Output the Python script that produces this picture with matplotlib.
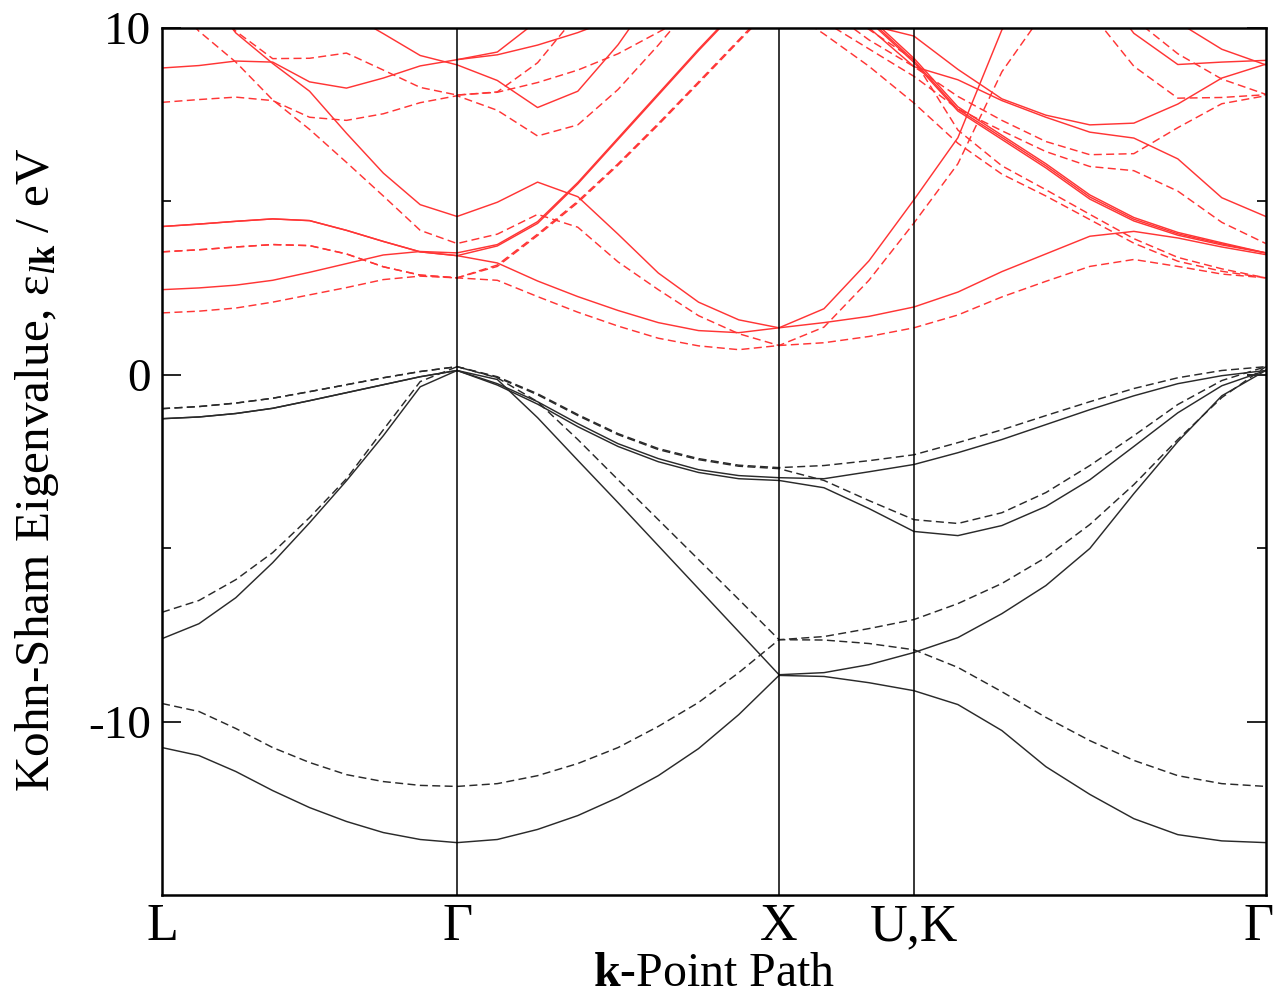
import numpy as np
import matplotlib
matplotlib.use("Agg")
import matplotlib.pyplot as plt
from matplotlib.transforms import ScaledTranslation

plt.rcParams['font.family'] = ['Liberation Serif', 'DejaVu Serif']
plt.rcParams['mathtext.fontset'] = 'custom'
plt.rcParams['mathtext.rm'] = 'Liberation Serif'
plt.rcParams['mathtext.it'] = 'Liberation Serif:italic'
plt.rcParams['mathtext.bf'] = 'Liberation Serif:bold'
plt.rcParams['axes.unicode_minus'] = False

nan = np.nan

# ---- k-path ----
kpt_labels = ['L', 'Γ', 'X', 'U,K', 'Γ']
kpt_pos = [0.0, 0.877, 1.834, 2.235, 3.281]
seg_steps = [8, 8, 3, 8]

# ---- valence bands (solid) ----
vs1 = [-10.75, -10.98, -11.44, -11.99, -12.48, -12.88, -13.20, -13.40, -13.49,
       -13.40, -13.11, -12.71, -12.19, -11.56, -10.78, -9.80, -8.67,
       -8.70, -8.88, -9.11,
       -9.51, -10.26, -11.30, -12.10, -12.80, -13.26, -13.44, -13.49]
vs2 = [-7.61, -7.18, -6.43, -5.42, -4.27, -3.06, -1.76, -0.35, 0.12,
       -0.14, -1.24, -2.47, -3.69, -4.93, -6.17, -7.41, -8.65,
       -8.59, -8.36, -8.01,
       -7.58, -6.89, -6.08, -5.01, -3.43, -1.93, -0.61, 0.12]
vs3 = [-1.27, -1.22, -1.12, -0.97, -0.75, -0.52, -0.29, -0.06, 0.12,
       -0.30, -0.85, -1.50, -2.07, -2.51, -2.82, -3.00, -3.05,
       -3.26, -3.86, -4.52,
       -4.64, -4.35, -3.80, -3.03, -2.07, -1.10, -0.32, 0.12]
vs4 = [-1.27, -1.22, -1.12, -0.97, -0.75, -0.52, -0.29, -0.06, 0.12,
       -0.26, -0.78, -1.41, -1.99, -2.42, -2.74, -2.91, -2.97,
       -3.00, -2.80, -2.59,
       -2.25, -1.87, -1.44, -1.01, -0.61, -0.26, -0.03, 0.12]

# ---- valence bands (dashed) ----
vd1 = [-9.48, -9.71, -10.20, -10.75, -11.18, -11.53, -11.73, -11.84, -11.87,
       -11.79, -11.56, -11.21, -10.75, -10.14, -9.45, -8.59, -7.64,
       -7.65, -7.75, -7.93,
       -8.44, -9.14, -9.88, -10.55, -11.12, -11.56, -11.79, -11.87]
vd2 = [-6.85, -6.51, -5.91, -5.13, -4.12, -3.00, -1.59, -0.20, 0.23,
       -0.09, -0.78, -1.87, -3.03, -4.18, -5.33, -6.48, -7.64,
       -7.55, -7.32, -7.06,
       -6.60, -6.02, -5.27, -4.32, -3.17, -1.87, -0.66, 0.23]
vd3 = [-0.98, -0.92, -0.82, -0.68, -0.49, -0.29, -0.09, 0.09, 0.23,
       -0.08, -0.58, -1.18, -1.73, -2.16, -2.45, -2.64, -2.71,
       -3.05, -3.63, -4.18,
       -4.29, -3.98, -3.40, -2.62, -1.76, -0.86, -0.17, 0.23]
vd4 = [-0.98, -0.92, -0.82, -0.68, -0.49, -0.29, -0.09, 0.09, 0.23,
       -0.06, -0.55, -1.15, -1.70, -2.13, -2.42, -2.61, -2.68,
       -2.62, -2.48, -2.31,
       -1.96, -1.59, -1.18, -0.78, -0.40, -0.09, 0.12, 0.23]

# ---- conduction bands (solid) ----
cs_a = [2.45, 2.50, 2.58, 2.72, 2.95, 3.20, 3.45, 3.55, 3.51,
        3.75, 4.41, 5.54, 6.82, 8.10, 9.38, 10.6, nan,
        nan, nan, nan,
        nan, nan, nan, nan, nan, nan, nan, nan]
cs_b = [4.27, 4.34, 4.42, 4.49, 4.44, 4.16, 3.84, 3.54, 3.43,
        3.71, 4.36, 5.50, 6.78, 8.06, 9.34, 10.56, nan,
        nan, nan, nan,
        nan, nan, nan, nan, nan, nan, nan, nan]
cs_c = [4.27, 4.34, 4.42, 4.49, 4.44, 4.16, 3.84, 3.54, 3.43,
        3.22, 2.70, 2.25, 1.85, 1.50, 1.27, 1.21, 1.35,
        1.50, 1.68, 1.95,
        2.38, 2.97, 3.48, 3.99, 4.13, 3.94, 3.68, 3.46]
cs_d = [11.6, 11.2, 9.85, 8.97, 8.17, 6.96, 5.81, 4.90, 4.56,
        4.97, 5.55, 5.13, 4.05, 2.93, 2.09, 1.58, 1.35,
        1.90, 3.28, 5.04,
        6.83, 9.94, 11.5, nan, nan, nan, nan, nan]
cs_e = [8.84, 8.91, 9.04, 9.01, 8.44, 8.26, 8.55, 8.90, 9.08,
        9.30, 10.2, nan, nan, nan, nan, nan, nan,
        nan, nan, nan,
        nan, nan, nan, nan, nan, nan, nan, nan]
cs_f = [nan, nan, nan, nan, nan, 10.44, 9.83, 9.20, 8.93,
        8.48, 7.70, 8.17, 9.51, 11.16, nan, nan, nan,
        nan, nan, nan,
        nan, nan, nan, nan, nan, nan, nan, nan]
cs_g = [nan, nan, nan, nan, nan, nan, nan, nan, 9.08,
        9.22, 9.50, 9.86, 10.3, nan, nan, nan, nan,
        nan, nan, nan,
        nan, nan, nan, nan, nan, nan, nan, nan]
cs_h = [nan, nan, nan, nan, nan, nan, nan, nan, nan,
        nan, nan, nan, nan, nan, nan, nan, nan,
        11.3, 10.0, 8.88,
        8.50, 7.90, 7.42, 6.99, 6.82, 6.22, 5.10, 4.56]
cs_i = [nan, nan, nan, nan, nan, nan, nan, nan, nan,
        nan, nan, nan, nan, nan, nan, nan, nan,
        11.0, 10.08, 9.76,
        8.80, 7.95, 7.48, 7.20, 7.25, 7.80, 8.55, 8.95]
cs_j = [nan, nan, nan, nan, nan, nan, nan, nan, nan,
        nan, nan, nan, nan, nan, nan, nan, nan,
        nan, 10.2, 9.0,
        7.60, 6.78, 5.96, 5.06, 4.43, 4.02, 3.74, 3.51]
cs_k = [nan, nan, nan, nan, nan, nan, nan, nan, nan,
        nan, nan, nan, nan, nan, nan, nan, nan,
        nan, 10.25, 9.05,
        7.65, 6.84, 6.02, 5.12, 4.48, 4.06, 3.77, 3.51]
cs_n = [nan, nan, nan, nan, nan, nan, nan, nan, nan,
        nan, nan, nan, nan, nan, nan, nan, nan,
        nan, 10.32, 9.12,
        7.72, 6.90, 6.08, 5.18, 4.53, 4.10, 3.80, 3.51]
cs_l = [nan] * 23 + [11.5, 9.84, 8.94, 9.01, 9.06]
cs_m = [nan] * 25 + [10.16, 9.38, 8.93]

# ---- conduction bands (dashed) ----
cd_a = [1.78, 1.83, 1.92, 2.09, 2.30, 2.51, 2.74, 2.84, 2.79,
        3.12, 4.01, 4.96, 6.04, 7.20, 8.40, 9.61, 10.8,
        nan, nan, nan,
        nan, nan, nan, nan, nan, nan, nan, nan]
cd_b = [3.54, 3.60, 3.68, 3.75, 3.72, 3.48, 3.11, 2.87, 2.79,
        2.72, 2.25, 1.80, 1.40, 1.05, 0.83, 0.72, 0.84,
        0.92, 1.10, 1.35,
        1.72, 2.24, 2.69, 3.12, 3.32, 3.12, 2.90, 2.79]
cd_c = [3.54, 3.60, 3.68, 3.75, 3.72, 3.48, 3.11, 2.87, 2.79,
        3.16, 4.05, 5.00, 6.08, 7.24, 8.44, 9.65, 10.85,
        nan, nan, nan,
        nan, nan, nan, nan, nan, nan, nan, nan]
cd_d = [11.0, 9.90, 9.01, 7.92, 7.07, 6.12, 5.15, 4.16, 3.78,
        4.05, 4.62, 4.25, 3.25, 2.45, 1.70, 1.18, 0.84,
        1.37, 2.72, 4.37,
        6.08, 8.73, 10.53, nan, nan, nan, nan, nan]
cd_e = [7.85, 7.93, 8.00, 7.90, 7.42, 7.33, 7.52, 7.84, 8.04,
        7.62, 6.88, 7.20, 8.22, 9.50, 10.87, nan, nan,
        nan, nan, nan,
        nan, nan, nan, nan, nan, nan, nan, nan]
cd_f = [nan, 11.0, 9.90, 9.11, 9.12, 9.27, 8.78, 8.28, 8.06,
        8.14, 8.42, 8.78, 9.25, 9.87, 10.5, nan, nan,
        nan, nan, nan,
        nan, nan, nan, nan, nan, nan, nan, nan]
cd_g = [nan] * 8 + [8.06, 8.15, 8.99, 10.4] + [nan] * 16
cd_h = [nan] * 16 + [10.68, 9.82, 8.89, 7.83,
                     6.67, 5.78, 5.15, 4.47, 3.79, 3.27, 2.98, 2.79]
cd_i = [nan] * 17 + [10.18, 9.39, 8.60,
                     7.66, 7.03, 6.43, 6.00, 5.88, 5.29, 4.39, 3.78]
cd_j = [nan] * 17 + [10.6, 9.65, 8.88,
                     8.02, 7.33, 6.72, 6.34, 6.37, 7.12, 7.81, 8.04]
cd_k = [nan] * 23 + [10.47, 8.89, 7.97, 7.99, 8.07]
cd_l = [nan] * 24 + [10.26, 9.25, 8.52, 8.08]
cd_m = [nan] * 17 + [10.9, 9.95, 9.08,
                     7.05, 6.02, 5.33, 4.62, 3.92, 3.38, 3.05, 2.79]

valence_solid = [vs1, vs2, vs3, vs4]
valence_dashed = [vd1, vd2, vd3, vd4]
cond_solid = [cs_a, cs_b, cs_c, cs_d, cs_e, cs_f, cs_g, cs_h, cs_i, cs_j,
              cs_k, cs_n, cs_l, cs_m]
cond_dashed = [cd_a, cd_b, cd_c, cd_d, cd_e, cd_f, cd_g, cd_h, cd_i, cd_j,
               cd_k, cd_l, cd_m]

# k grid along path
kgrid = [kpt_pos[0]]
for i, n in enumerate(seg_steps):
    kgrid.extend(np.linspace(kpt_pos[i], kpt_pos[i + 1], n + 1)[1:])
kgrid = np.array(kgrid)

fig = plt.figure(figsize=(12.76, 9.98), dpi=100)
ax = fig.add_axes([0.127, 0.1032, 0.865, 0.869])

red = '#ff3535'
blk = '#2a2a2a'
dash = (0, (5.5, 3.0))
lw = 1.05

for b in valence_solid:
    ax.plot(kgrid, b, color=blk, lw=lw, ls='-')
for b in valence_dashed:
    ax.plot(kgrid, b, color=blk, lw=lw, ls=dash)
for b in cond_solid:
    ax.plot(kgrid, b, color=red, lw=lw, ls='-')
for b in cond_dashed:
    ax.plot(kgrid, b, color=red, lw=lw, ls=dash)

for kp in kpt_pos[1:-1]:
    ax.axvline(kp, color='black', lw=1.1)

ax.set_xlim(kpt_pos[0], kpt_pos[-1])
ax.set_ylim(-15, 10)
ax.set_xticks(kpt_pos)
ax.set_xticklabels(kpt_labels)
ax.set_yticks([-10, 0, 10])
ax.set_yticks([-5, 5], minor=True)
ax.tick_params(axis='y', which='major', direction='in', length=14, width=1.2,
               left=True, right=True, labelsize=34, pad=8)
ax.tick_params(axis='y', which='minor', direction='in', length=6.5, width=1.2,
               left=True, right=True)
ax.tick_params(axis='x', length=0, labelsize=37.5, pad=6)
for s in ax.spines.values():
    s.set_linewidth(1.8)

# keep the last Γ label inside the figure
last = ax.get_xticklabels()[-1]
last.set_transform(last.get_transform() +
                   ScaledTranslation(-5 / 72, 0, fig.dpi_scale_trans))

ax.set_xlabel(r'$\mathbf{k}$-Point Path', fontsize=34.5, labelpad=0.5)
ax.set_ylabel(r'Kohn-Sham Eigenvalue, ε$_{l\mathbf{k}}$ / eV', fontsize=35.5)
ax.yaxis.set_label_coords(-0.092, 0.49)

fig.savefig('out.png', dpi=100)
